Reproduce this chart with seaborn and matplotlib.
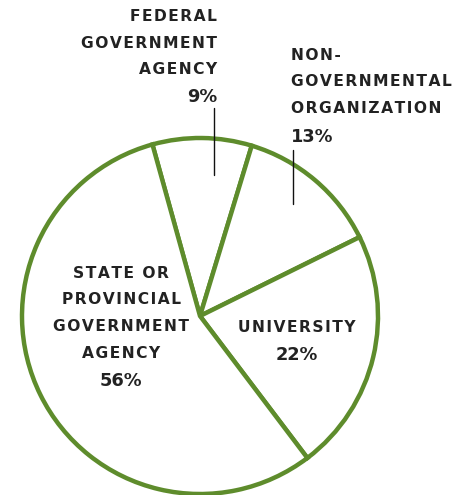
import matplotlib
matplotlib.use("Agg")
import matplotlib.pyplot as plt
import seaborn as sns

sns.set_theme(style="white")
plt.rcParams['font.family'] = ['DejaVu Sans']

categories = ["FEDERAL\nGOVERNMENT\nAGENCY", "NON-\nGOVERNMENTAL\nORGANIZATION", "UNIVERSITY",
              "STATE OR\nPROVINCIAL\nGOVERNMENT\nAGENCY"]
values = [9, 13, 22, 56]

GREEN = "#5e8c2c"
TXT = "#222222"
H = 495

fig = plt.figure(figsize=(4.71, 4.95), dpi=100)
ax = fig.add_axes([0, 0, 1, 1])

ax.pie(values, startangle=105.5, counterclock=False, center=(200, H - 316), radius=178,
       colors=["white"] * len(values),
       wedgeprops=dict(edgecolor=GREEN, linewidth=3.2, joinstyle='miter'), frame=True)
ax.set_xlim(0, 471)
ax.set_ylim(0, H)
ax.set_aspect('equal')
ax.axis('off')

fs = 11.2
lh = 26.5

def spaced(s):
    return "\u200a".join(s)

def label(x, ytop, text, pct, ha):
    lines = text.split("\n")
    for i, ln in enumerate(lines):
        ax.text(x, H - (ytop + i * lh), spaced(ln), ha=ha, va='baseline', fontsize=fs,
                fontweight='bold', color=TXT)
    ax.text(x, H - (ytop + len(lines) * lh + 2), f"{pct}%", ha=ha, va='baseline',
            fontsize=fs + 1.6, fontweight='semibold', color=TXT)

label(217, 21, categories[0], values[0], 'right')
label(291, 60, categories[1], values[1], 'left')
label(297, 332, categories[2], values[2], 'center')
label(121, 278, categories[3], values[3], 'center')

ax.plot([214, 214], [H - 108, H - 175], color="#111111", lw=1.0)
ax.plot([293, 293], [H - 150, H - 204], color="#111111", lw=1.0)

fig.savefig("out.png", dpi=100)
